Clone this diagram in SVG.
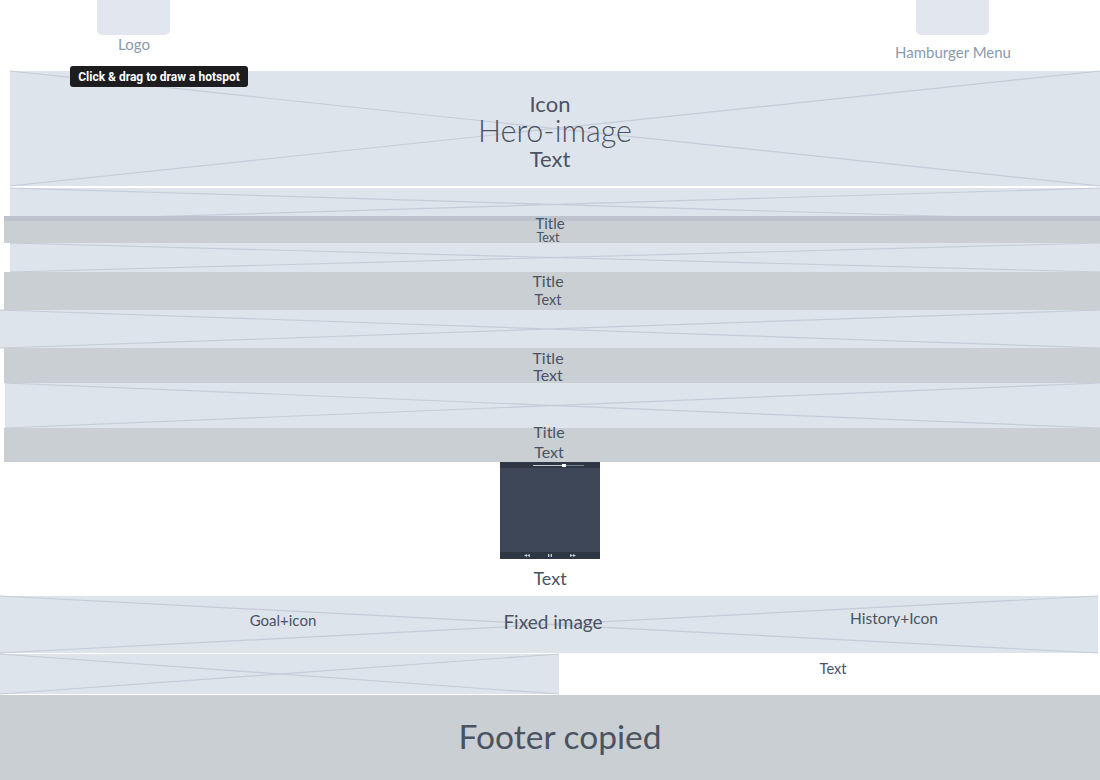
<svg xmlns="http://www.w3.org/2000/svg" width="1100" height="780" viewBox="0 0 1100 780">
<style>
.ph{fill:#dee4ec}
.x{stroke:#c3ccd8;stroke-width:1.2;fill:none}
.band{fill:#cacfd3}
.t{font-family:Lato,"Liberation Sans",sans-serif;fill:#4a5362;text-anchor:middle}
.lbl{font-family:Lato,"Liberation Sans",sans-serif;fill:#8c99ad;text-anchor:middle;font-size:15px}
</style>
<rect width="1100" height="780" fill="#ffffff"/>
<g id="logo">
<rect x="97" y="-4" width="73" height="39" rx="5" fill="#e2e7ef"/>
<text class="lbl" x="134" y="50">Logo</text>
</g>
<g id="hamburger">
<rect x="916" y="-4" width="73" height="39" rx="5" fill="#e2e7ef"/>
<text class="lbl" x="953" y="58">Hamburger Menu</text>
</g>
<g id="hero">
<rect class="ph" x="10" y="71" width="1090" height="115"/>
<path class="x" d="M10 71L1100 186M10 186L1100 71"/>
<text class="t" x="550" y="112" font-size="22">Icon</text>
<text class="t" x="555" y="142" font-size="30.5" font-weight="300">Hero-image</text>
<text class="t" x="550" y="167" font-size="22">Text</text>
</g>
<g id="image1">
<rect class="ph" x="10" y="188" width="1090" height="33"/>
<path class="x" d="M10 188L1100 221M10 221L1100 188"/>
</g>
<g id="section1">
<rect class="band" x="4" y="216" width="1096" height="27"/>
<rect x="4" y="216" width="1096" height="5" fill="#bdc3cc"/>
<text class="t" x="550" y="229" font-size="15">Title</text>
<text class="t" x="548" y="242" font-size="12.5">Text</text>
</g>
<g id="image2">
<rect class="ph" x="10" y="243" width="1090" height="29"/>
<path class="x" d="M10 243L1100 272M10 272L1100 243"/>
</g>
<g id="section2">
<rect class="band" x="4" y="272" width="1096" height="38"/>
<text class="t" x="548" y="287" font-size="16">Title</text>
<text class="t" x="548" y="305" font-size="14.5">Text</text>
</g>
<g id="image3">
<rect class="ph" x="0" y="310" width="1100" height="38"/>
<path class="x" d="M0 310L1100 348M0 348L1100 310"/>
</g>
<g id="section3">
<rect class="band" x="4" y="348" width="1096" height="35"/>
<text class="t" x="548" y="364" font-size="16">Title</text>
<text class="t" x="548" y="381" font-size="16">Text</text>
</g>
<g id="image4">
<rect class="ph" x="5" y="383" width="1095" height="45"/>
<path class="x" d="M5 383L1100 428M5 428L1100 383"/>
</g>
<g id="section4">
<rect class="band" x="4" y="428" width="1096" height="34"/>
<text class="t" x="549" y="438" font-size="16">Title</text>
<text class="t" x="549" y="458" font-size="16">Text</text>
</g>
<g id="video">
<rect x="500" y="462" width="100" height="97" fill="#3d4757"/>
<rect x="500" y="462" width="100" height="6" fill="#2f3744"/>
<rect x="500" y="552" width="100" height="7" fill="#2f3744"/>
<line x1="533" y1="465.5" x2="584" y2="465.5" stroke="#8893a3" stroke-width="0.8"/>
<line x1="533" y1="465.5" x2="564" y2="465.5" stroke="#d8dde4" stroke-width="0.8"/>
<rect x="562" y="464" width="4" height="3" fill="#ffffff"/>
<path d="M524 555.5l3 -1.5v3zM527 555.5l3 -1.5v3z" fill="#c8ced8"/>
<rect x="548" y="554" width="1.3" height="3" fill="#c8ced8"/>
<rect x="550.7" y="554" width="1.3" height="3" fill="#c8ced8"/>
<path d="M570 554v3l3 -1.5zM573 554v3l3 -1.5z" fill="#c8ced8"/>
<text class="t" x="550" y="585" font-size="18">Text</text>
</g>
<g id="fixed-image">
<rect class="ph" x="0" y="596" width="1098" height="57"/>
<path class="x" d="M0 596L1098 653M0 653L1098 596"/>
<text class="t" x="283" y="626" font-size="15">Goal+icon</text>
<text class="t" x="553" y="629" font-size="19">Fixed image</text>
<text class="t" x="894" y="624" font-size="15.5">History+Icon</text>
</g>
<g id="image5">
<rect class="ph" x="0" y="654" width="559" height="40"/>
<path class="x" d="M0 654L559 694M0 694L559 654"/>
</g>
<g id="text-block">
<text class="t" x="833" y="674" font-size="14.5">Text</text>
</g>
<g id="footer">
<rect class="band" x="0" y="695" width="1100" height="85"/>
<text class="t" x="560" y="749" font-size="33.5">Footer copied</text>
</g>
<g id="tooltip">
<rect x="70" y="66" width="178" height="21" rx="3" fill="#1d1d1f"/>
<text x="159" y="81" font-family="Roboto,'Liberation Sans',sans-serif" font-size="12" font-weight="bold" fill="#ffffff" text-anchor="middle">Click &amp; drag to draw a hotspot</text>
</g>
<g id="connectors"></g>
</svg>
